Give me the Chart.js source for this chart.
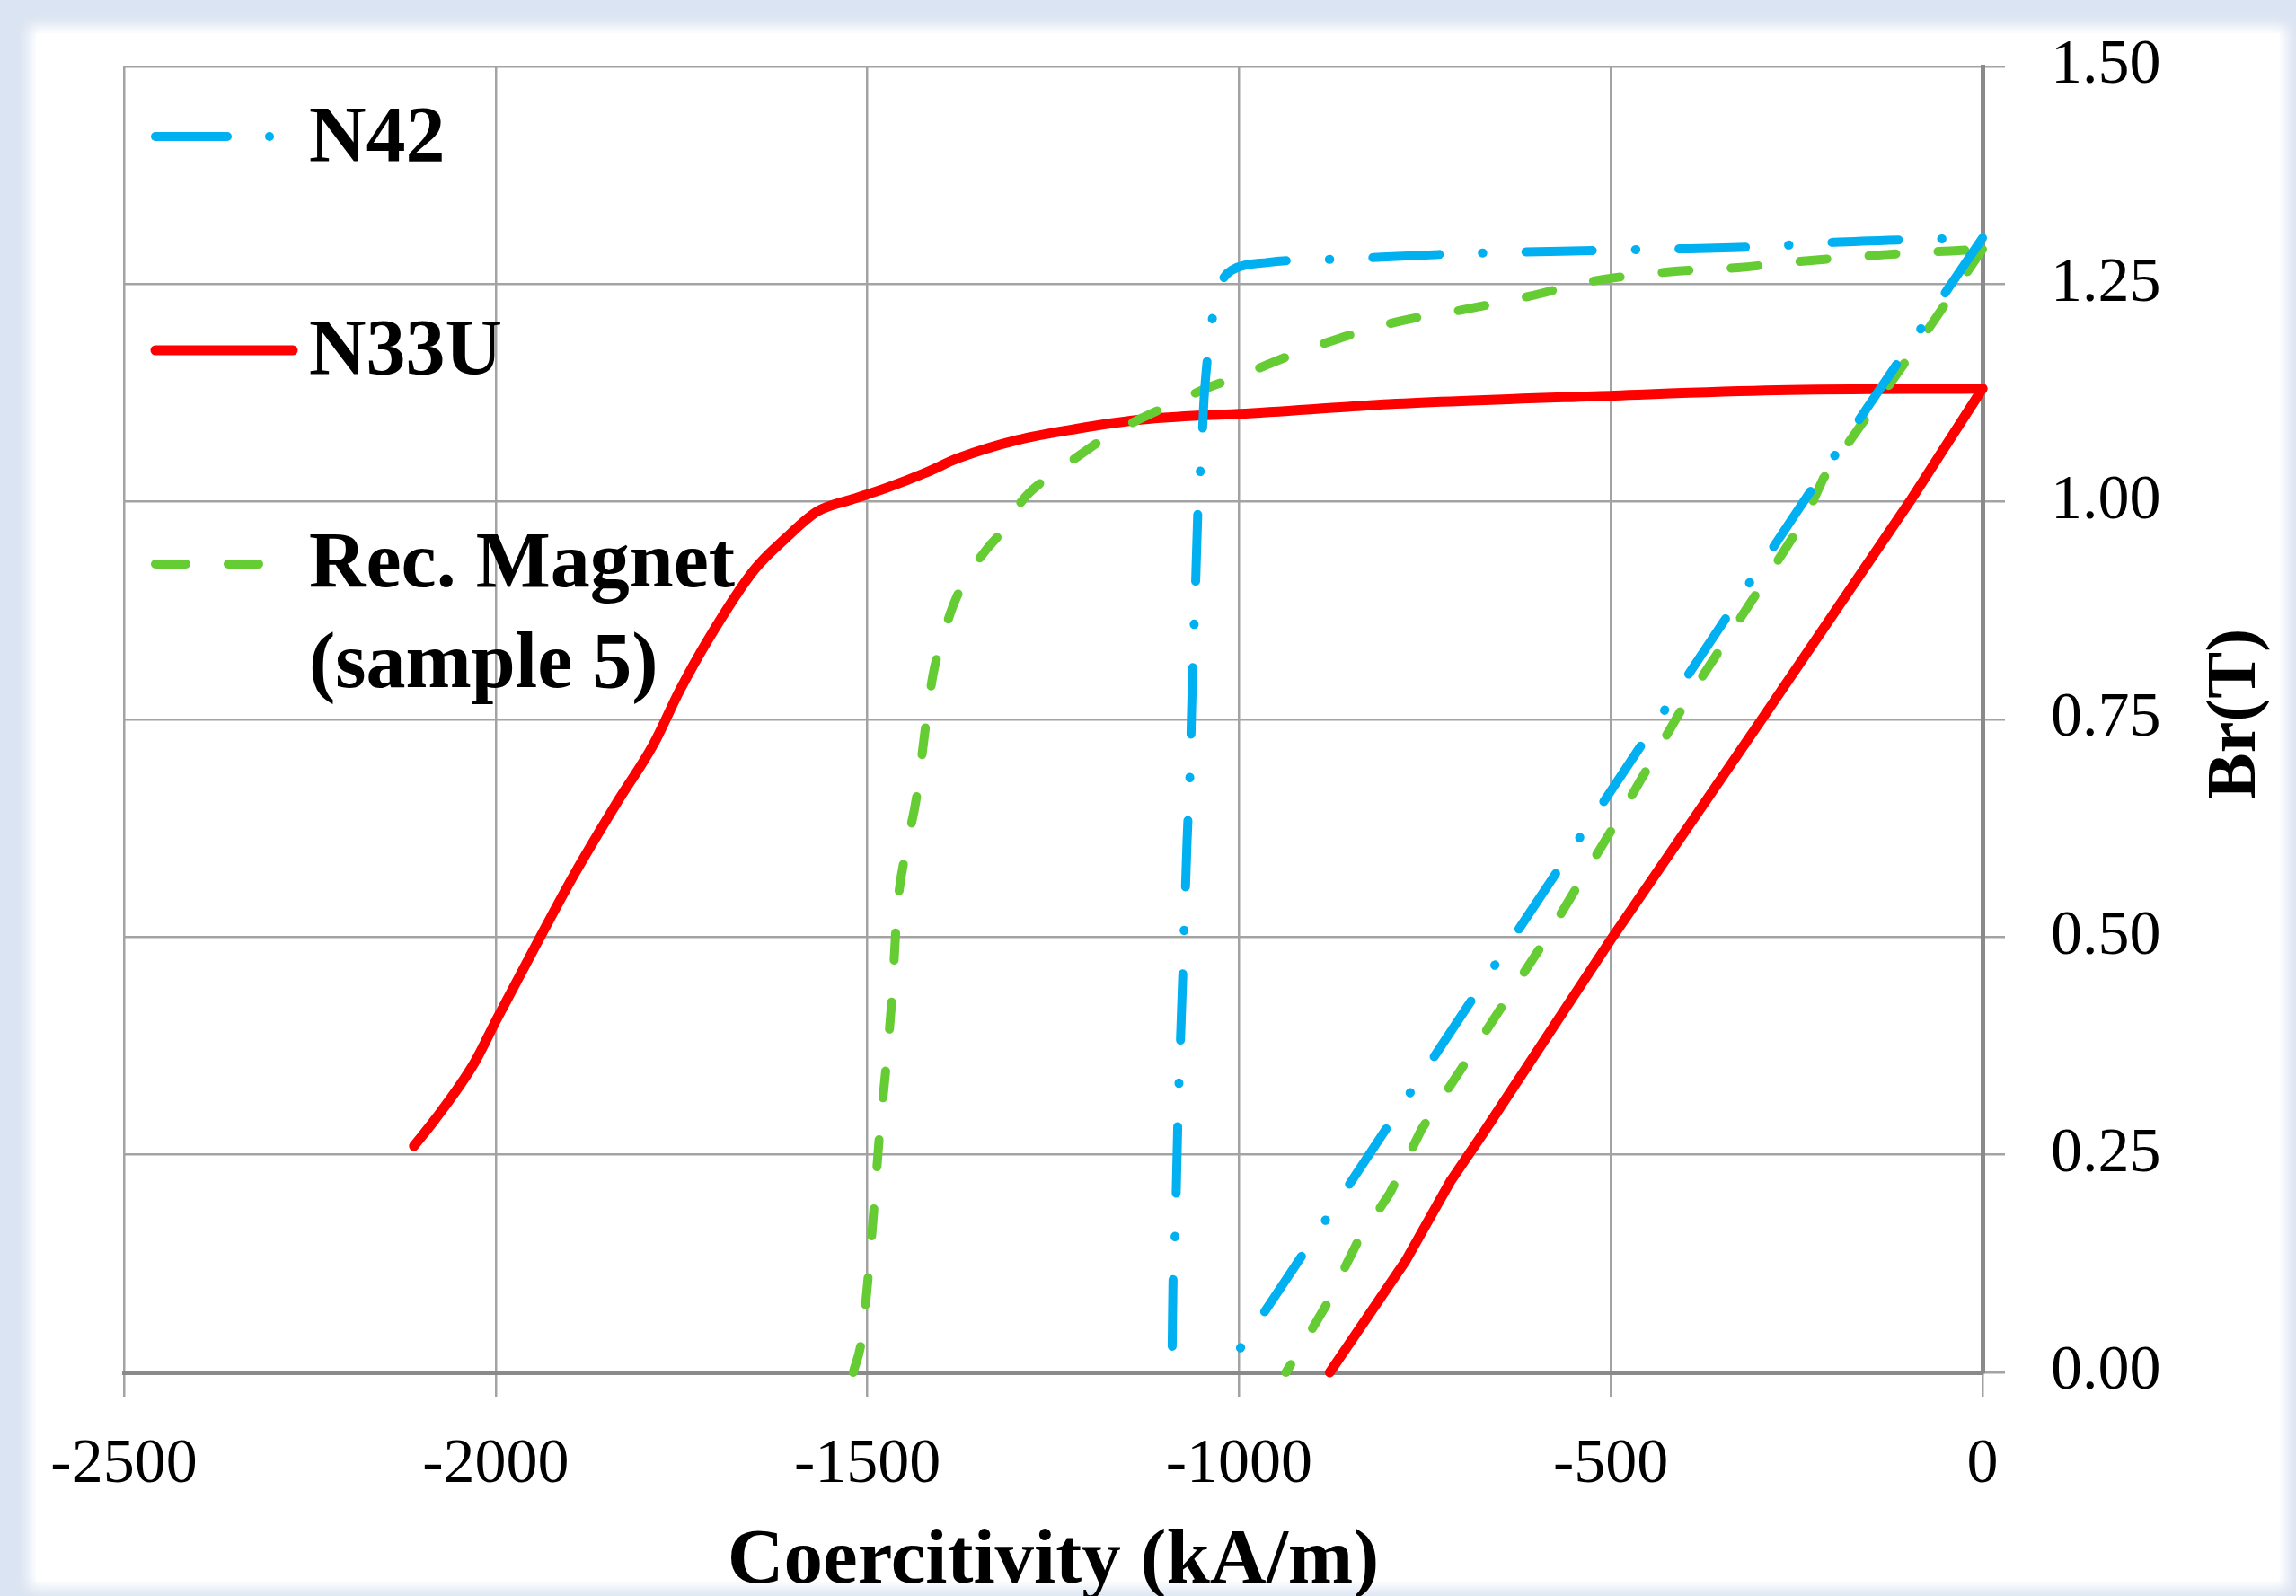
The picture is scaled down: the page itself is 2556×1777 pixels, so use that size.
<!DOCTYPE html>
<html>
<head>
<meta charset="utf-8">
<title>Demagnetization curves</title>
<script src="https://cdn.jsdelivr.net/npm/chart.js@4.4.1/dist/chart.umd.min.js"></script>
<style>
html, body { margin: 0; padding: 0; background: #dbe4f2; overflow: hidden; }
#panel { position: absolute; left: 40px; top: 37px; width: 2498px; height: 1724px; background: #fff; box-shadow: 0 0 14px 8px #fff; }
#mycanvas { position: absolute; left: 0; top: 0; }
</style>
</head>
<body>
<div id="panel"></div>
<canvas id="mycanvas" width="2556" height="1777"></canvas>
<script>
// axis ticks
var hTicks = [-2500, -2000, -1500, -1000, -500, 0];
var bTicks = [0, 0.25, 0.5, 0.75, 1.0, 1.25, 1.5];

// N42 (H in kA/m, B in T): demagnetization curve, then recoil line
var n42DemagH = [-1090, -1089, -1086, -1082, -1076, -1070, -1066, -1063, -1058, -1055, -1051, -1047, -1042, -1036, -1030, -1020, -1010, -961, -857, -700, -500, -300, -200, -100, 0];
var n42DemagB = [0.03, 0.10, 0.16, 0.30, 0.45, 0.61, 0.69, 0.79, 0.92, 1.00, 1.05, 1.12, 1.17, 1.21, 1.24, 1.258, 1.266, 1.275, 1.279, 1.285, 1.289, 1.293, 1.298, 1.301, 1.303];
var n42RecoilH = [0, -233, -634, -924, -1010];
var n42RecoilB = [1.303, 1.01, 0.496, 0.123, 0.013];

// N33U
var n33uDemagH = [-2110, -2082, -2029, -1999, -1937, -1893, -1838, -1788, -1752, -1714, -1653, -1610, -1567, -1520, -1474, -1420, -1378, -1298, -1217, -1136, -1056, -1000, -854, -799, -495, -277, 0];
var n33uDemagB = [0.26, 0.29, 0.355, 0.405, 0.505, 0.574, 0.653, 0.721, 0.784, 0.842, 0.921, 0.958, 0.989, 1.003, 1.016, 1.034, 1.05, 1.071, 1.084, 1.094, 1.099, 1.101, 1.109, 1.112, 1.122, 1.128, 1.13];
var n33uRecoilH = [0, -98, -297, -500, -673, -716, -776, -878];
var n33uRecoilB = [1.13, 1.0, 0.75, 0.497, 0.273, 0.219, 0.128, 0];

// Rec. Magnet (sample 5)
var recDemagH = [-1519, -1508, -1500, -1492, -1484, -1475, -1467, -1460, -1448, -1434, -1422, -1412, -1400, -1385, -1365, -1340, -1310, -1293, -1259, -1217, -1172, -1136, -1086, -1045, -997, -955, -906, -864, -814, -770, -715, -610, -527, -423, -329, -234, -129, 0];
var recDemagB = [0, 0.036, 0.10, 0.18, 0.27, 0.35, 0.43, 0.53, 0.60, 0.66, 0.74, 0.80, 0.84, 0.88, 0.915, 0.945, 0.975, 1.0, 1.027, 1.052, 1.078, 1.094, 1.114, 1.13, 1.145, 1.16, 1.176, 1.188, 1.201, 1.21, 1.218, 1.236, 1.253, 1.264, 1.269, 1.277, 1.284, 1.29];
var recRecoilH = [0, -82, -129, -214, -238, -290, -397, -494, -594, -700, -754, -797, -840, -883, -921, -937];
var recRecoilB = [1.29, 1.187, 1.13, 1.027, 0.982, 0.913, 0.773, 0.63, 0.489, 0.35, 0.28, 0.206, 0.151, 0.077, 0.022, 0];

var seriesNames = ['N42', 'N33U', 'Rec. Magnet (sample 5)'];
var legendLines = [['N42'], ['N33U'], ['Rec. Magnet', '(sample 5)']];

var blue = '#00b0f0', red = '#ff0000', green = '#66cc33';

function pts(xs, ys) {
	var out = [];
	for (var i in xs) {
		out.push({x: xs[i], y: ys[i]});
	}
	return out;
}

function series(label, xs, ys, color, width, dash, order, smooth) {
	return {
		label: label,
		data: pts(xs, ys),
		showLine: true,
		borderColor: color,
		backgroundColor: color,
		borderWidth: width,
		borderDash: dash,
		borderCapStyle: 'round',
		borderJoinStyle: 'round',
		cubicInterpolationMode: smooth ? 'monotone' : 'default',
		tension: smooth ? 0.4 : 0,
		pointRadius: 0,
		fill: false,
		clip: false,
		order: order
	};
}

// legend and axis titles drawn onto the canvas
var decor = {
	id: 'decor',
	afterDraw: function(chart) {
		var ctx = chart.ctx;
		var a = chart.chartArea;
		var lx = a.left + 35;
		ctx.save();
		ctx.lineCap = 'round';

		// N42 swatch: dash + dot
		ctx.strokeStyle = blue;
		ctx.lineWidth = 10;
		ctx.beginPath();
		ctx.moveTo(lx, a.top + 78);
		ctx.lineTo(lx + 80, a.top + 78);
		ctx.stroke();
		ctx.beginPath();
		ctx.arc(lx + 127, a.top + 78, 5, 0, Math.PI * 2);
		ctx.fillStyle = blue;
		ctx.fill();

		// N33U swatch
		ctx.strokeStyle = red;
		ctx.lineWidth = 11;
		ctx.beginPath();
		ctx.moveTo(lx, a.top + 316);
		ctx.lineTo(lx + 153, a.top + 316);
		ctx.stroke();

		// Rec. Magnet swatch
		ctx.strokeStyle = green;
		ctx.lineWidth = 10;
		ctx.beginPath();
		ctx.moveTo(lx, a.top + 554);
		ctx.lineTo(lx + 34, a.top + 554);
		ctx.moveTo(lx + 81, a.top + 554);
		ctx.lineTo(lx + 115, a.top + 554);
		ctx.stroke();

		ctx.fillStyle = '#000';
		ctx.font = 'bold 88px "Liberation Serif"';
		ctx.textAlign = 'left';
		ctx.textBaseline = 'alphabetic';
		var tx = a.left + 206;
		ctx.fillText(legendLines[0][0], tx, a.top + 105);
		ctx.fillText(legendLines[1][0], tx, a.top + 342);
		ctx.fillText(legendLines[2][0], tx, a.top + 579);
		ctx.fillText(legendLines[2][1], tx, a.top + 691);

		// x title
		ctx.textAlign = 'center';
		ctx.font = 'bold 87px "Liberation Serif"';
		ctx.fillText('Coercitivity (kA/m)', (a.left + a.right) / 2, 1762);

		// y title, reading upward
		ctx.font = 'bold 78px "Liberation Serif"';
		ctx.translate(2510, (a.top + a.bottom) / 2 - 6);
		ctx.rotate(-Math.PI / 2);
		ctx.fillText('Br(T)', 0, 0);
		ctx.restore();
	}
};

var ctx = document.getElementById('mycanvas');

var chart = new Chart(ctx, {
	type: 'scatter',
	data: {
		datasets: [
			series(seriesNames[0], n42DemagH, n42DemagB, blue, 10, [74, 48, 0.5, 48], 1, true),
			series(seriesNames[0], n42RecoilH, n42RecoilB, blue, 10, [74, 48, 0.5, 48], 1, false),
			series(seriesNames[1], n33uDemagH, n33uDemagB, red, 11, [], 3, true),
			series(seriesNames[1], n33uRecoilH, n33uRecoilB, red, 11, [], 3, false),
			series(seriesNames[2], recDemagH, recDemagB, green, 10, [30, 47], 2, true),
			series(seriesNames[2], recRecoilH, recRecoilB, green, 10, [30, 47], 2, false)
		]
	},
	options: {
		responsive: false,
		animation: false,
		devicePixelRatio: 1,
		layout: { padding: { left: 138, top: 74, right: 0, bottom: 0 } },
		plugins: {
			legend: { display: false },
			tooltip: { enabled: false }
		},
		scales: {
			x: {
				type: 'linear',
				position: 'bottom',
				min: -2500,
				max: 0,
				afterBuildTicks: function(s) { s.ticks = hTicks.map(function(v) { return {value: v}; }); },
				afterFit: function(s) { s.height = 1777 - 1528; },
				grid: { color: '#a3a3a3', lineWidth: 2.5, tickLength: 27 },
				border: { color: '#8a8a8a', width: 5 },
				ticks: {
					autoSkip: false,
					maxRotation: 0,
					padding: 35,
					color: '#000',
					font: { family: 'Liberation Serif', size: 70 },
					callback: function(v) { return String(v); }
				}
			},
			y: {
				type: 'linear',
				position: 'right',
				min: 0,
				max: 1.5,
				afterBuildTicks: function(s) { s.ticks = bTicks.map(function(v) { return {value: v}; }); },
				afterFit: function(s) {
					s.width = 2556 - 2207;
					// label padding should not push the plot area down
					s.paddingTop = 42;
					s.paddingBottom = 42;
				},
				grid: { color: '#a3a3a3', lineWidth: 2.5, tickLength: 25 },
				border: { color: '#8a8a8a', width: 5 },
				ticks: {
					padding: 51,
					color: '#000',
					font: { family: 'Liberation Serif', size: 70 },
					callback: function(v) { return v.toFixed(2); }
				}
			}
		}
	},
	plugins: [decor]
});
</script>
</body>
</html>
